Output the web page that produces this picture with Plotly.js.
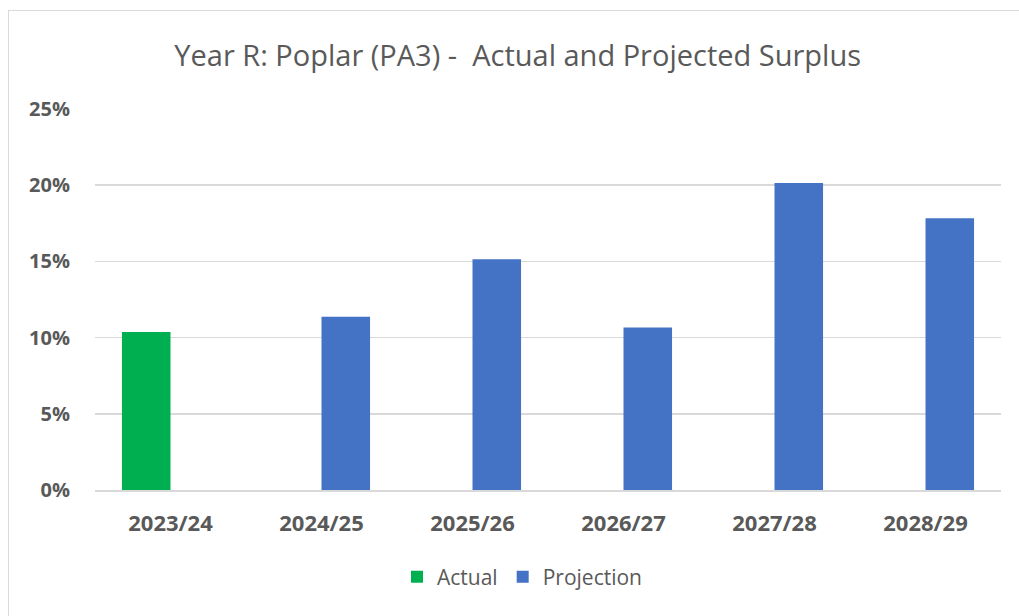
<!DOCTYPE html>
<html>
<head>
<meta charset="utf-8">
<script src="https://cdn.plot.ly/plotly-3.0.1.min.js"></script>
<style>
html,body{margin:0;padding:0;background:#fff;}
#wrap{position:relative;width:1019px;height:616px;overflow:hidden;}
#chart{width:1019px;height:616px;}
#frame{position:absolute;left:8px;top:10px;width:1100px;height:700px;border:1px solid #d9d9d9;pointer-events:none;}
</style>
</head>
<body>
<div id="wrap"><div id="chart"></div><div id="frame"></div></div>
<script>
const categories = ["2023/24","2024/25","2025/26","2026/27","2027/28","2028/29"];
const actualValues = [0.1037, null, null, null, null, null];
const projectionValues = [null, 0.1137, 0.1514, 0.1067, 0.2015, 0.1783];
const yTicks = [0, 0.05, 0.10, 0.15, 0.20, 0.25];
const yTickLabels = ["0%","5%","10%","15%","20%","25%"];

const font = "Open Sans, Liberation Sans, sans-serif";
const data = [
  {type:"bar", name:"Actual", x:categories, y:actualValues, marker:{color:"#00B050"}},
  {type:"bar", name:"Projection", x:categories, y:projectionValues, marker:{color:"#4472C4"}}
];
const layout = {
  width:1019, height:616,
  margin:{l:95, r:18, t:109, b:126},
  paper_bgcolor:"#fff", plot_bgcolor:"#fff",
  barmode:"group", bargap:0.357, bargroupgap:0,
  title:{text:"Year R: Poplar (PA3) -  Actual and Projected Surplus", xref:"container", x:0.508, xanchor:"center", yref:"container", y:1-56/616, yanchor:"middle", font:{family:font, size:29, color:"#595959"}},
  xaxis:{type:"category", showgrid:false, showline:true, linecolor:"#d9d9d9", linewidth:1.5, ticks:"", tickfont:{family:font, size:22, color:"#595959", weight:"bold"}, ticklabelstandoff:13, fixedrange:true},
  yaxis:{range:[0,0.25], tickvals:yTicks, ticktext:yTickLabels, showgrid:true, gridcolor:"#d9d9d9", gridwidth:1.5, zeroline:false, showline:false, ticks:"", tickfont:{family:font, size:20, color:"#595959", weight:"bold"}, ticklabelstandoff:24, fixedrange:true},
  showlegend:true,
  legend:{orientation:"h", x:(522-95)/906, xanchor:"center", y:(490-577)/381, yanchor:"middle", font:{family:font, size:21, color:"#595959"}, itemwidth:20, traceorder:"normal"},
  hovermode:false
};
Plotly.newPlot("chart", data, layout, {displayModeBar:false, staticPlot:true});
</script>
</body>
</html>
